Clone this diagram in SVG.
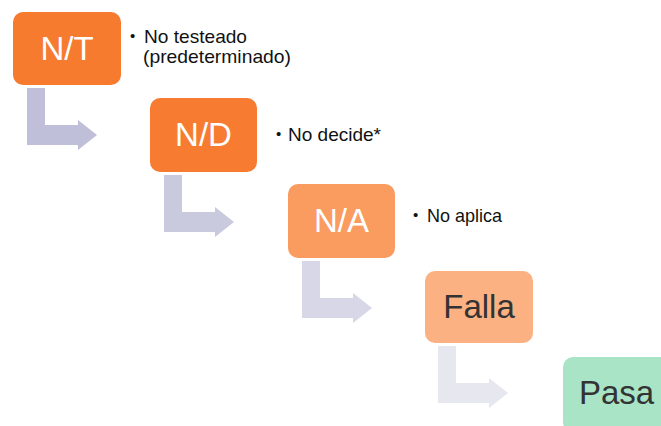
<svg xmlns="http://www.w3.org/2000/svg" width="661" height="426" viewBox="0 0 661 426">
<style>
.box{stroke:none}
.big{font-family:"Liberation Sans",Arial,sans-serif;font-size:33px;text-anchor:middle}
.w{fill:#ffffff}
.d{fill:#333333}
.lbl{font-family:"Liberation Sans",Arial,sans-serif;font-size:18.5px;fill:#111111}
.bul{font-family:"Liberation Sans",Arial,sans-serif;font-size:15px;fill:#111111}
</style>
<defs>
<path id="arr" d="M14,3 H32 V40 H65 V35 L84,50 L65,65 V60 H14 Z"/>
</defs>
<rect width="661" height="426" fill="#ffffff"/>
<g id="connectors">
<use href="#arr" x="13" y="85" fill="#BFBFD9"/>
<use href="#arr" x="150" y="172" fill="#CACADF"/>
<use href="#arr" x="288" y="258" fill="#D7D7E7"/>
<use href="#arr" x="424" y="343" fill="#E7E7EF"/>
</g>
<g id="nt">
<rect class="box" x="13" y="12" width="108" height="73" rx="10" fill="#F67B2F"/>
<text class="big w" x="67" y="60">N/T</text>
<text class="bul" x="130" y="41">•</text>
<text class="lbl" x="144" y="43" textLength="103" lengthAdjust="spacingAndGlyphs">No testeado</text>
<text class="lbl" x="143" y="63" textLength="148" lengthAdjust="spacingAndGlyphs">(predeterminado)</text>
</g>
<g id="nd">
<rect class="box" x="150" y="98" width="107" height="74" rx="10" fill="#F77C32"/>
<text class="big w" x="203.5" y="146">N/D</text>
<text class="bul" x="276" y="139">•</text>
<text class="lbl" x="288" y="141" textLength="93" lengthAdjust="spacingAndGlyphs">No decide*</text>
</g>
<g id="na">
<rect class="box" x="288" y="184" width="107" height="74" rx="10" fill="#FA9B5F"/>
<text class="big w" x="341.5" y="232">N/A</text>
<text class="bul" x="413" y="220">•</text>
<text class="lbl" x="427" y="222" textLength="75" lengthAdjust="spacingAndGlyphs">No aplica</text>
</g>
<g id="falla">
<rect class="box" x="425" y="271" width="108" height="72" rx="10" fill="#FCB183"/>
<text class="big d" x="479" y="318">Falla</text>
</g>
<g id="pasa">
<rect class="box" x="563" y="357" width="110" height="75" rx="10" fill="#A8E4C5"/>
<text class="big d" x="616.5" y="404">Pasa</text>
</g>
</svg>
